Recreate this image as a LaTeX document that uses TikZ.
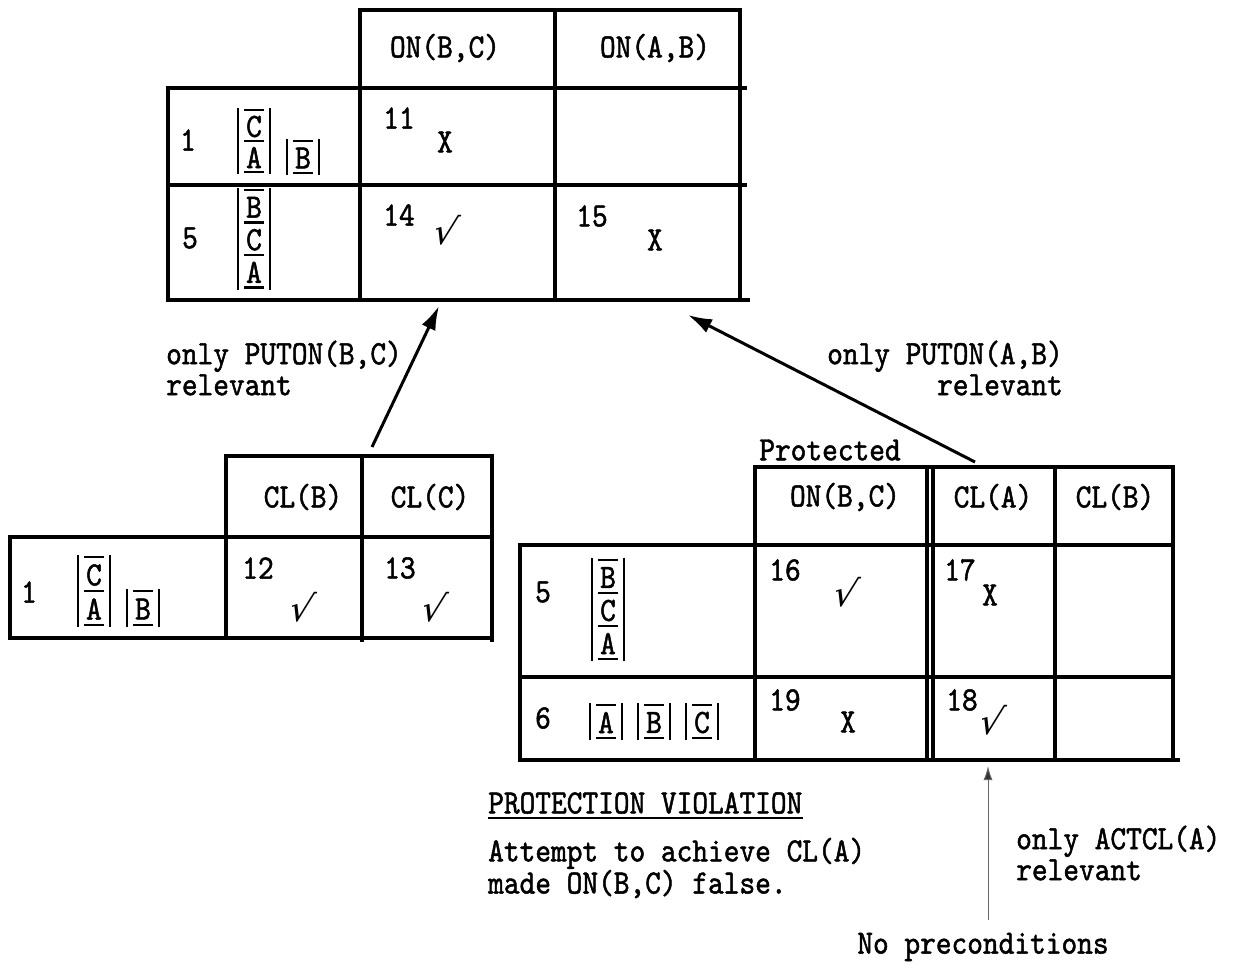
\documentclass[tikz,border=0pt]{standalone}
\usepackage{fontspec}
\usetikzlibrary{arrows.meta}
\newfontfamily\tw{lmmono10-regular.otf}[FakeBold=1.4, FakeStretch=0.88]
\newfontfamily\djv{DejaVu Sans}
% stack of blocks: #1 x left bar, #2 y top, #3 level height, #4 letters, #5 name prefix
\newcommand\blkstack[5]{%
  \foreach \L [count=\i from 0] in {#4} {
    \node[lbl] (#5\i) at (#1+16, #2+\i*#3+#3/2+1) {\L};
    \draw[blk] (#1+6, #2+\i*#3) -- (#1+26, #2+\i*#3);
    \draw[blk] (#1+6, #2+\i*#3+#3) -- (#1+26, #2+\i*#3+#3);
    \draw[blk] (#1, #2+\i*#3-2) -- (#1, #2+\i*#3+#3+2);
    \draw[blk] (#1+32, #2+\i*#3-2) -- (#1+32, #2+\i*#3+#3+2);
  }}
\begin{document}
\begin{tikzpicture}[x=1pt,y=-1pt,
  tbl/.style={line width=3.8pt, line cap=rect},
  tblthin/.style={line width=3.2pt, line cap=rect},
  blk/.style={line width=2.6pt},
  lbl/.style={font=\tw\fontsize{34}{34}\selectfont, inner sep=0pt},
  note/.style={font=\tw\fontsize{34}{31}\selectfont, inner sep=0pt},
  chk/.style={font=\djv\fontsize{36}{36}\selectfont, inner sep=0pt, xslant=0.25},
  arr/.style={line width=3pt, -{Latex[length=24pt,width=15pt]}, shorten >=0pt},
  thinarr/.style={line width=1pt, draw=black!60, -{Latex[length=14pt,width=9pt,fill=black!80]}}]
\useasboundingbox[fill=white] (0,0) rectangle (1234,969);

% ---------------- top table ----------------
\draw[tbl] (360,10) -- (740,10);
\draw[tbl] (360,10) -- (360,300);
\draw[tbl] (555,10) -- (555,300);
\draw[tbl] (740,10) -- (740,300);
\draw[tbl] (168,88) -- (745,88);
\draw[tbl] (168,185) -- (745,185);
\draw[tbl] (168,300) -- (748,300);
\draw[tbl] (168,88) -- (168,300);
\node[lbl] (h1) at (445,48) {ON(B,C)};
\node[lbl] (h2) at (655,48) {ON(A,B)};
\node[lbl] (r1) at (188,140) {1};
\blkstack{238}{110}{31}{C,A}{ta}
\blkstack{287}{141}{32}{B}{tb}
\node[lbl] (r5) at (190,238) {5};
\blkstack{238}{190}{32.5}{B,C,A}{tc}
\node[lbl] (n11) at (399,118) {11};
\node[lbl] (x11) at (445,142) {X};
\node[lbl] (n14) at (399,215) {14};
\node[chk] (c14) at (447,230) {√};
\node[lbl] (n15) at (592,216) {15};
\node[lbl] (x15) at (655,240) {X};

% ---------------- left table ----------------
\draw[tblthin] (226,456) -- (492,456);
\draw[tblthin] (226,456) -- (226,638);
\draw[tblthin] (362,456) -- (362,640);
\draw[tblthin] (492,456) -- (492,640);
\draw[tblthin] (10,537) -- (492,537);
\draw[tblthin] (10,638) -- (492,638);
\draw[tblthin] (10,537) -- (10,638);
\node[lbl] (lh1) at (303,497) {CL(B)};
\node[lbl] (lh2) at (430,497) {CL(C)};
\node[lbl] (lr1) at (29,592) {1};
\blkstack{78}{557}{34}{C,A}{la}
\blkstack{127}{591}{34}{B}{lb}
\node[lbl] (n12) at (258,568) {12};
\node[chk] (c12) at (303,607) {√};
\node[lbl] (n13) at (400,568) {13};
\node[chk] (c13) at (435,607) {√};

% ---------------- right table ----------------
\draw[tblthin] (755,467) -- (1173,467);
\draw[tblthin] (755,467) -- (755,760);
\draw[tblthin] (927,467) -- (927,760);
\draw[tblthin] (933,467) -- (933,760);
\draw[tblthin] (1055,467) -- (1055,760);
\draw[tblthin] (1173,467) -- (1173,760);
\draw[tblthin] (520,545) -- (1173,545);
\draw[tblthin] (520,677) -- (1173,677);
\draw[tblthin] (520,760) -- (1178,760);
\draw[tblthin] (520,545) -- (520,760);
\node[lbl] (rh1) at (845,497) {ON(B,C)};
\node[lbl] (rh2) at (993,497) {CL(A)};
\node[lbl] (rh3) at (1115,497) {CL(B)};
\node[lbl] (prot) at (830,450) {Protected};
\node[lbl] (rr5) at (543,592) {5};
\blkstack{592}{560}{33}{B,C,A}{ra}
\node[lbl] (rr6) at (543,718) {6};
\blkstack{590}{705}{33}{A}{rb}
\blkstack{638}{705}{33}{B}{rc}
\blkstack{686}{705}{33}{C}{rd}
\node[lbl] (n16) at (785,570) {16};
\node[chk] (c16) at (847,592) {√};
\node[lbl] (n17) at (960,570) {17};
\node[lbl] (x17) at (990,595) {X};
\node[lbl] (n19) at (785,700) {19};
\node[lbl] (x19) at (848,722) {X};
\node[lbl] (n18) at (962,700) {18};
\node[chk] (c18) at (993,720) {√};

% ---------------- labels ----------------
\node[note, anchor=west, align=left] (lab1) at (166,368) {only PUTON(B,C)\\relevant};
\node[note, anchor=east, align=right] (lab2) at (1063,368) {only PUTON(A,B)\\relevant};
\node[lbl, anchor=west] (pv) at (488,803) {PROTECTION VIOLATION};
\draw[line width=2.2pt] (pv.south west) ++(0,4) coordinate (pvl) -- (pv.south east |- pvl);
\node[note, anchor=west, align=left] (att) at (488,868) {Attempt to achieve CL(A)\\made ON(B,C) false.};
\node[note, anchor=west, align=left] (act) at (1016,853) {only ACTCL(A)\\relevant};
\node[lbl] (nopre) at (983,947) {No preconditions};

% ---------------- arrows ----------------
\coordinate (a1s) at (372,447);
\coordinate (a1e) at (439,306);
\coordinate (a2s) at (975,462);
\coordinate (a2e) at (688,315);
\coordinate (a3s) at (988,920);
\coordinate (a3e) at (988,766);
\draw[arr] (a1s) -- (a1e);
\draw[arr] (a2s) -- (a2e);
\draw[thinarr] (a3s) -- (a3e);
\end{tikzpicture}
\end{document}
